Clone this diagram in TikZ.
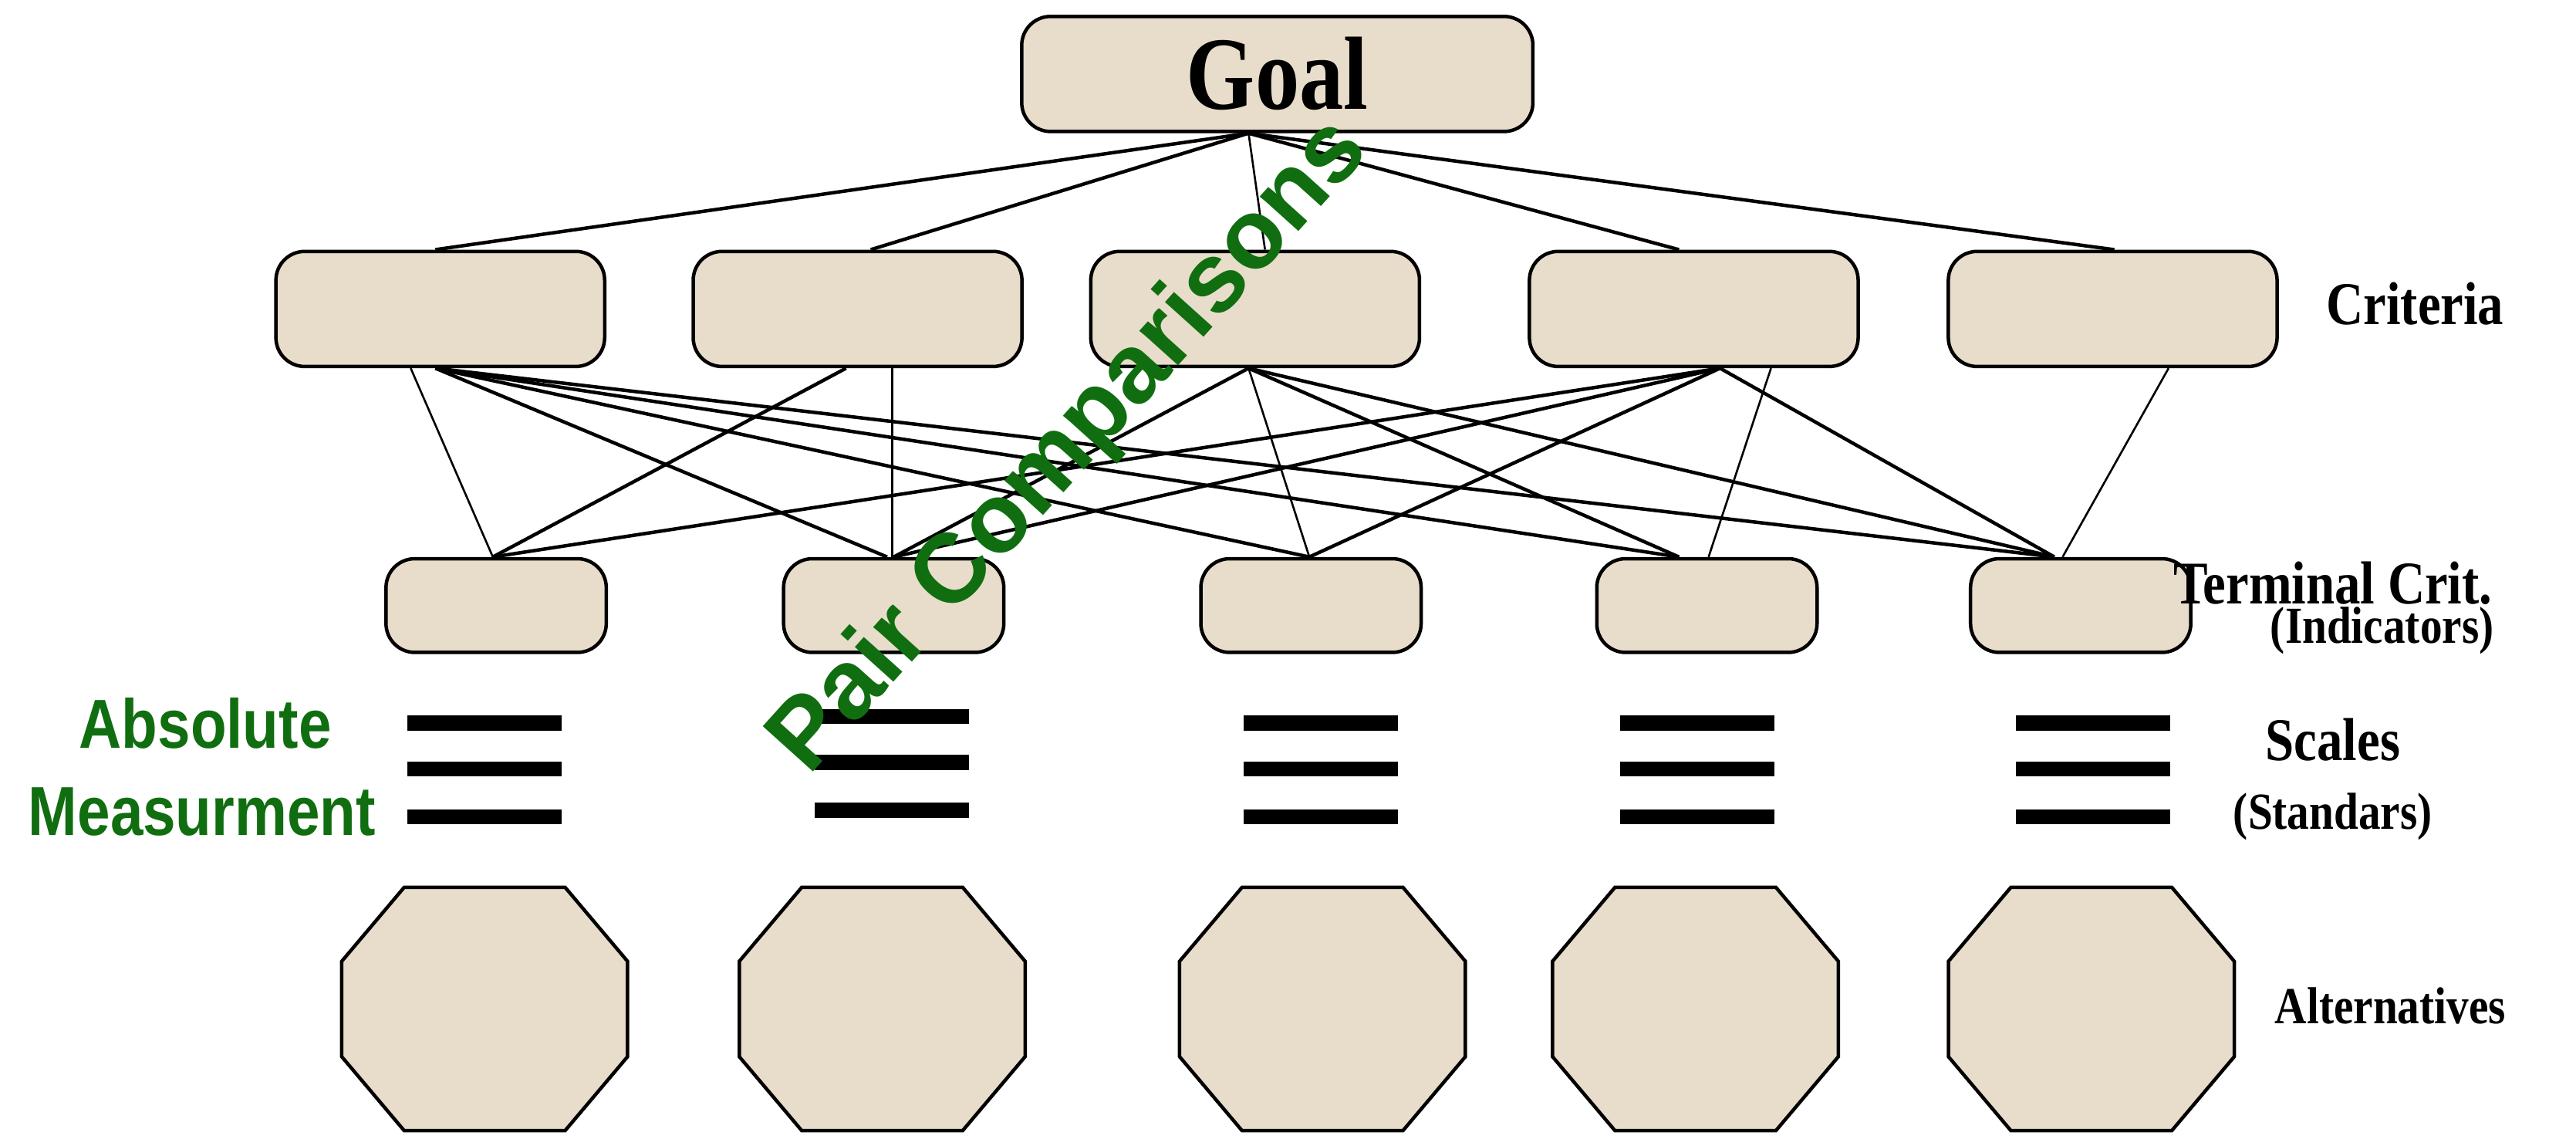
\documentclass[tikz,border=0pt]{standalone}
\usepackage{fontspec}
\setmainfont{Liberation Serif}
\newfontfamily\gsans{Liberation Sans}
\begin{document}
\begin{tikzpicture}[x=0.01cm,y=-0.01cm,
  box/.style={draw=black,fill=beige,rounded corners=5pt,line width=0.6pt,inner sep=0pt,minimum height=#1},
  crit/.style={box=0.7cm,minimum width=2cm},
  term/.style={box=0.57cm,minimum width=1.34cm},
  oct/.style={draw=black,fill=beige,line width=0.6pt},
  ln/.style={line width=0.6pt},
  thin/.style={line width=0.35pt},
  bar/.style={line width=2.6pt},
  lab/.style={font=\bfseries\fontsize{10.5}{11}\selectfont,xscale=0.85,anchor=center},
  slab/.style={font=\bfseries\fontsize{9}{10}\selectfont,xscale=0.85,anchor=center},
  grn/.style={text=gr,font=\gsans\bfseries\fontsize{12}{13}\selectfont,xscale=0.85}]
\definecolor{beige}{RGB}{232,221,202}
\definecolor{gr}{RGB}{16,110,16}
\useasboundingbox (0,0) rectangle (1568,693);
% goal
\node[box=0.7cm,minimum width=3.11cm,font=\bfseries\fontsize{18}{20}\selectfont] (goal) at (777.5,45) {\scalebox{0.85}[1]{Goal}};
% criteria
\foreach \x/\n in {268/1,522/2,764/3,1031/4,1286/5}
  \node[crit] (c\n) at (\x,188) {};
\foreach \x/\n in {302/1,544/2,798/3,1039/4,1266.5/5}
  \node[term] (t\n) at (\x,368.5) {};
% goal links
\draw[ln] ([xshift=-17.5*0.01cm]goal.south) -- ([xshift=-3*0.01cm]c1.north);
\draw[ln] ([xshift=-17.5*0.01cm]goal.south) -- ([xshift=8*0.01cm]c2.north);
\draw[thin] ([xshift=-17.5*0.01cm]goal.south) -- ([xshift=6*0.01cm]c3.north);
\draw[ln] ([xshift=-17.5*0.01cm]goal.south) -- ([xshift=-9*0.01cm]c4.north);
\draw[ln] ([xshift=-17.5*0.01cm]goal.south) -- ([xshift=1*0.01cm]c5.north);
% criteria -> terminal
\coordinate (c1a) at ([xshift=-3*0.01cm]c1.south);
\draw[thin] ([xshift=-18*0.01cm]c1.south) -- ([xshift=-2*0.01cm]t1.north);
\draw[ln] (c1a) -- ([xshift=-4*0.01cm]t2.north);
\draw[ln] (c1a) -- ([xshift=-1*0.01cm]t3.north);
\draw[ln] (c1a) -- ([xshift=-17*0.01cm]t4.north);
\draw[ln] (c1a) -- ([xshift=-16*0.01cm]t5.north);
\draw[ln] ([xshift=-7*0.01cm]c2.south) -- ([xshift=-2*0.01cm]t1.north);
\draw[thin] ([xshift=21*0.01cm]c2.south) -- ([xshift=-1*0.01cm]t2.north);
\coordinate (c3a) at ([xshift=-4*0.01cm]c3.south);
\draw[ln] (c3a) -- (t2.north);
\draw[thin] (c3a) -- ([xshift=-1*0.01cm]t3.north);
\draw[ln] (c3a) -- ([xshift=-17*0.01cm]t4.north);
\draw[ln] (c3a) -- ([xshift=-16*0.01cm]t5.north);
\coordinate (c4a) at ([xshift=16*0.01cm]c4.south);
\draw[ln] (c4a) -- ([xshift=-2*0.01cm]t1.north);
\draw[ln] (c4a) -- (t2.north);
\draw[ln] (c4a) -- ([xshift=-1*0.01cm]t3.north);
\draw[thin] ([xshift=47*0.01cm]c4.south) -- ([xshift=1*0.01cm]t4.north);
\draw[ln] (c4a) -- ([xshift=-16*0.01cm]t5.north);
\draw[thin] ([xshift=34*0.01cm]c5.south) -- ([xshift=-11*0.01cm]t5.north);
% scales
\foreach \a/\o in {248/0,496/-4,757/0,986/0,1227/0}
  \foreach \y in {440,468,497} \draw[bar] (\a,\y+\o) -- ++(94,0);
% alternatives
\foreach \a in {208,450,718,945,1186}
  \draw[oct] (\a+38,540) -- (\a+136,540) -- (\a+174,585) -- (\a+174,643) -- (\a+136,688) -- (\a+38,688) -- (\a,643) -- (\a,585) -- cycle;
% labels
\node[lab] (lcrit) at (1470,185) {Criteria};
\node[lab] (lterm) at (1420,355) {Terminal Crit.};
\node[slab] (lind) at (1450,384) {(Indicators)};
\node[lab] (lsc) at (1420,450) {Scales};
\node[slab] (lstd) at (1420,497) {(Standars)};
\node[slab] (lalt) at (1455,612) {Alternatives};
\node[text=gr,font=\gsans\bfseries\fontsize{17}{18}\selectfont,rotate=48] (pair) at (652,272) {Pair Comparisons};
\node[grn] (abs) at (125,440) {Absolute};
\node[grn] (meas) at (123,494) {Measurment};
\end{tikzpicture}
\end{document}
